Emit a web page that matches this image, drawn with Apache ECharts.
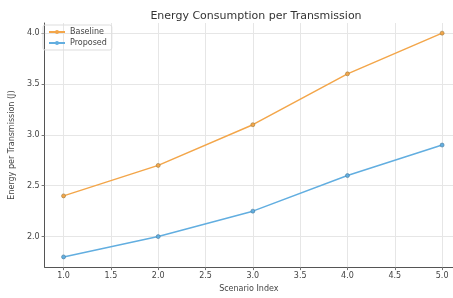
<!DOCTYPE html>
<html>
<head>
<meta charset="utf-8">
<script src="https://cdn.jsdelivr.net/npm/echarts@6/dist/echarts.min.js"></script>
<style>
  html, body { margin: 0; padding: 0; background: #fff; }
  #chart { width: 453px; height: 298px; }
</style>
</head>
<body>
<div id="chart"></div>
<script>
// scenario index on the x axis
const scenarios = [1, 2, 3, 4, 5]
const baseline = [2.4, 2.7, 3.1, 3.6, 4.0]
const proposed = [1.8, 2.0, 2.25, 2.6, 2.9]
const xTicks = [1.0, 1.5, 2.0, 2.5, 3.0, 3.5, 4.0, 4.5, 5.0]
const yTicks = [2.0, 2.5, 3.0, 3.5, 4.0]

const font = 'DejaVu Sans'
const chart = echarts.init(document.getElementById('chart'))

function toPairs(vals) {
  return scenarios.map((x, i) => [x, vals[i]])
}

chart.setOption({
  animation: false,
  color: ['#f3a64a', '#62aee0'],
  textStyle: { fontFamily: font },
  title: {
    text: 'Energy Consumption per Transmission',
    left: 251,
    top: 6,
    textAlign: 'center',
    textStyle: { fontFamily: font, fontSize: 11, fontWeight: 'normal', color: '#333' }
  },
  legend: {
    left: 43,
    top: 25,
    orient: 'vertical',
    itemGap: 3,
    itemWidth: 16,
    itemHeight: 5,
    padding: [3, 5],
    borderColor: '#ddd',
    borderWidth: 1,
    borderRadius: 2,
    itemStyle: { borderWidth: 0 },
    textStyle: { fontFamily: font, fontSize: 8, color: '#444' },
    data: ['Baseline', 'Proposed']
  },
  grid: { left: 41, right: 0, top: 23, bottom: 28 },
  xAxis: {
    type: 'value',
    min: 0.8,
    max: 5.115,
    name: 'Scenario Index',
    nameLocation: 'middle',
    nameGap: 16,
    nameTextStyle: { fontFamily: font, fontSize: 8, color: '#444' },
    axisLine: { show: true, lineStyle: { color: '#555', width: 1 } },
    axisTick: { show: true, customValues: xTicks, length: 3, lineStyle: { color: '#777' } },
    axisLabel: {
      customValues: xTicks,
      fontSize: 8,
      color: '#444',
      margin: 5,
      formatter: v => v.toFixed(1)
    },
    splitLine: { show: true, lineStyle: { color: '#e6e6e6', width: 1 } }
  },
  yAxis: {
    type: 'value',
    min: 1.7,
    max: 4.1,
    name: 'Energy per Transmission (J)',
    nameLocation: 'middle',
    nameGap: 26,
    nameTextStyle: { fontFamily: font, fontSize: 8, color: '#444' },
    axisLine: { show: true, lineStyle: { color: '#555', width: 1 } },
    axisTick: { show: true, customValues: yTicks, length: 3, lineStyle: { color: '#777' } },
    axisLabel: {
      customValues: yTicks,
      fontSize: 8,
      color: '#444',
      margin: 5,
      formatter: v => v.toFixed(1)
    },
    splitLine: { show: true, lineStyle: { color: '#e6e6e6', width: 1 } }
  },
  series: [
    {
      name: 'Baseline',
      type: 'line',
      data: toPairs(baseline),
      symbol: 'circle',
      symbolSize: 4,
      lineStyle: { width: 1.5 },
      itemStyle: { color: '#f3a64a', borderColor: '#9a7a40', borderWidth: 0.6 }
    },
    {
      name: 'Proposed',
      type: 'line',
      data: toPairs(proposed),
      symbol: 'circle',
      symbolSize: 4,
      lineStyle: { width: 1.5 },
      itemStyle: { color: '#62aee0', borderColor: '#4a7a9a', borderWidth: 0.6 }
    }
  ]
})
</script>
</body>
</html>
